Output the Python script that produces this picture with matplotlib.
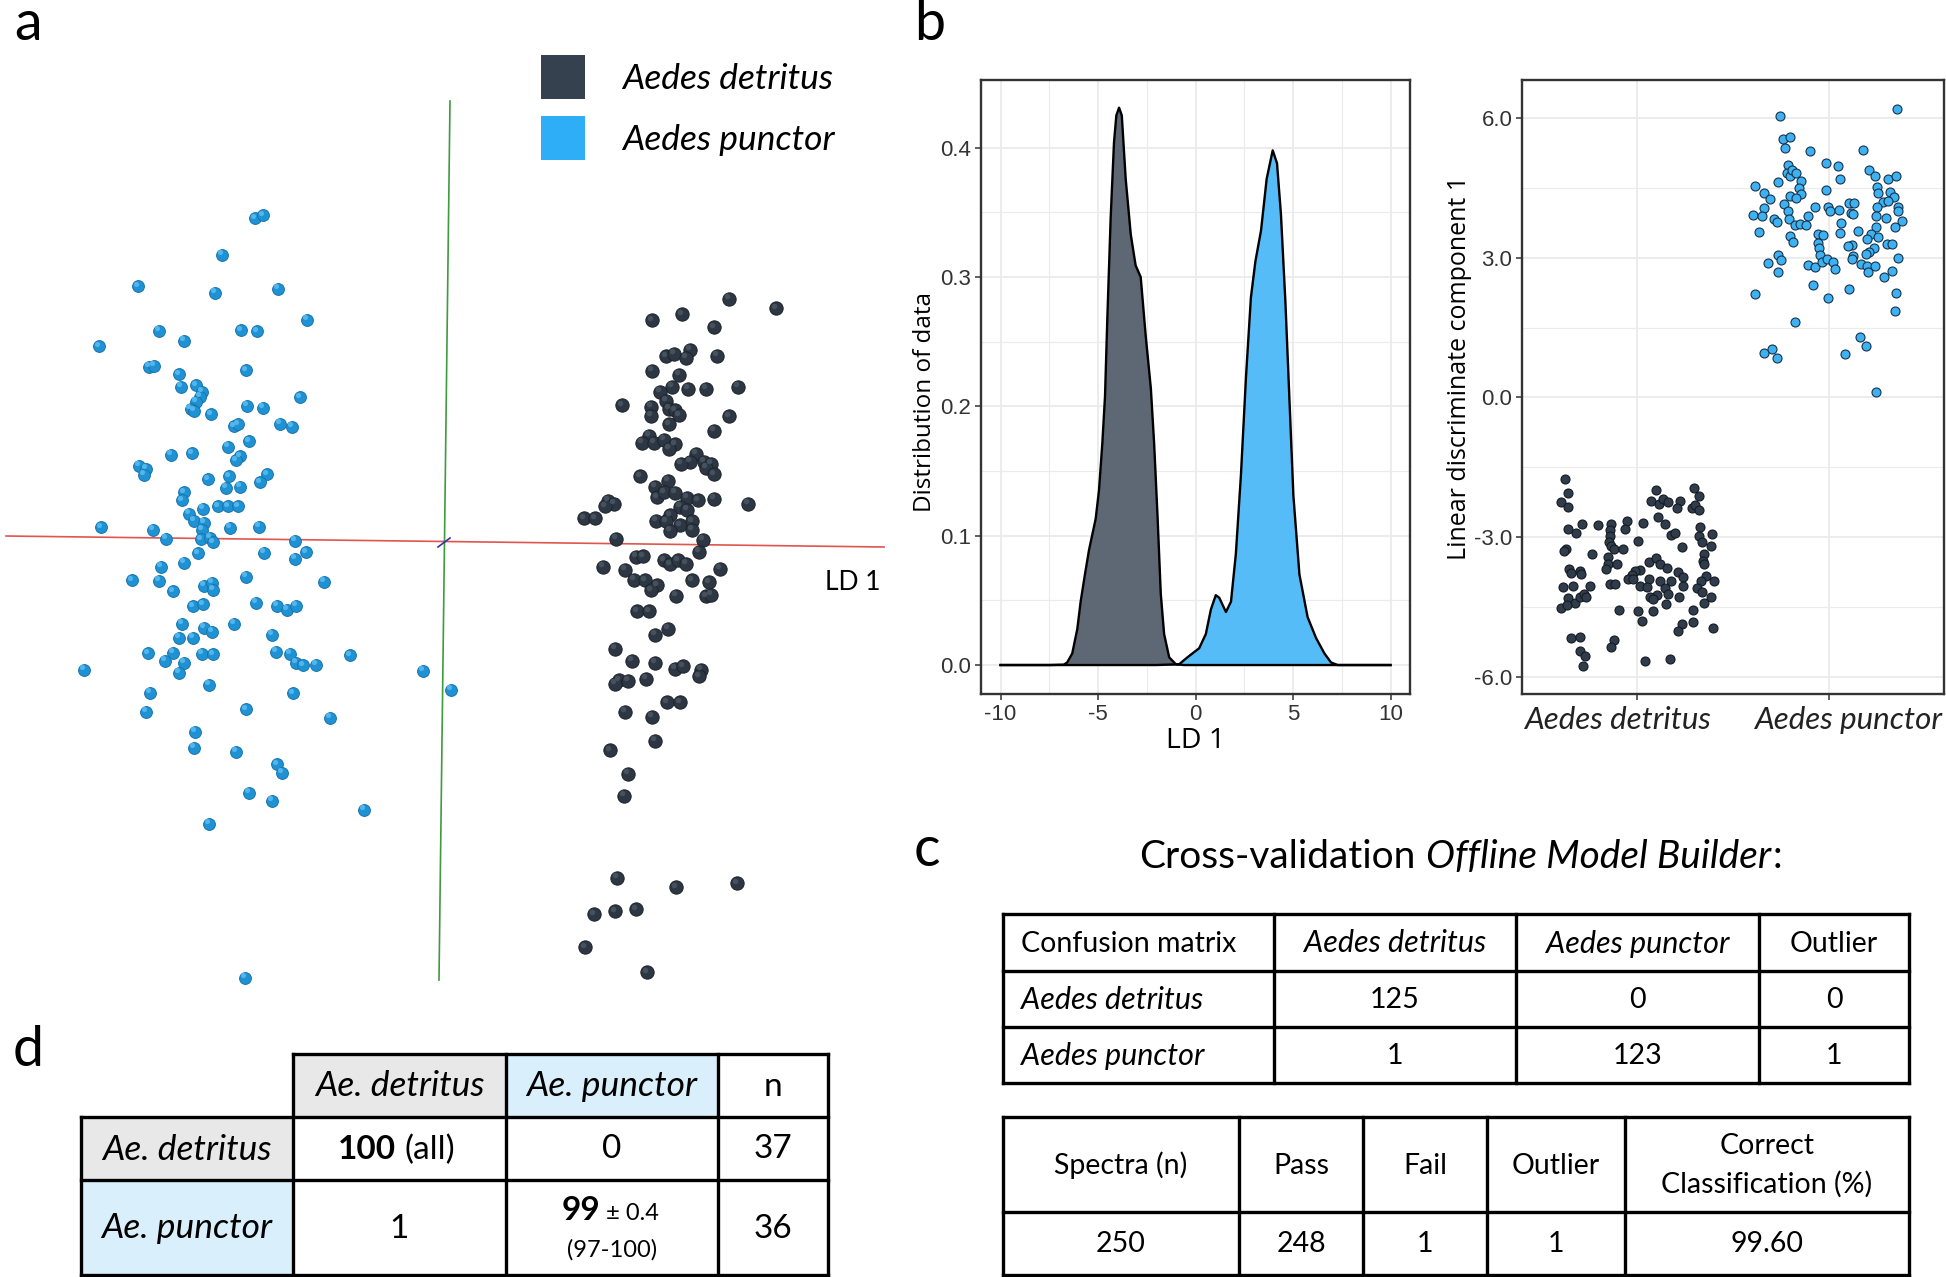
import matplotlib
matplotlib.use("Agg")
import matplotlib.pyplot as plt
from matplotlib.patches import Rectangle
import numpy as np

# ======================= DATA =======================
species = ["Aedes detritus", "Aedes punctor"]

# panel a : 3D LDA view (screen units, origin at axes crossing)
punctor_3d = [(-3.79,6.49),(-3.63,6.56),(-4.45,5.77),(-6.13,5.13),(-4.59,5.01),(-3.32,5.08),(-2.75,4.47),(-5.71,4.25),(-4.06,4.26),(-3.75,4.24),(-5.21,4.05),(-6.91,3.94),(-5.91,3.53),(-5.81,3.55),(-3.97,3.46),(-5.30,3.38),(-5.27,3.13),(-4.96,3.16),(-4.85,3.03),(-4.88,2.93),(-4.97,2.83),(-5.07,2.69),(-5.01,2.65),(-4.65,2.58),(-3.95,2.75),(-3.63,2.71),(-2.88,2.92),(-4.20,2.34),(-4.11,2.38),(-3.29,2.39),(-3.05,2.33),(-3.91,2.04),(-4.33,1.93),(-5.47,1.77),(-5.05,1.80),(-4.09,1.74),(-4.15,1.66),(-6.11,1.55),(-5.97,1.49),(-6.00,1.37),(-4.72,1.28),(-4.31,1.34),(-4.36,1.11),(-4.09,1.13),(-3.55,1.38),(-3.69,1.22),(-5.21,1.02),(-5.25,0.86),(-4.83,0.69),(-4.53,0.74),(-4.33,0.74),(-4.13,0.74),(-5.10,0.59),(-5.00,0.45),(-4.80,0.41),(-6.87,0.32),(-5.83,0.27),(-4.85,0.27),(-4.29,0.31),(-3.71,0.33),(-5.57,0.09),(-4.87,0.08),(-4.68,0.11),(-4.61,0.02),(-2.98,0.05),(-4.93,-0.20),(-3.60,-0.19),(-2.77,-0.18),(-2.99,-0.31),(-5.67,-0.47),(-5.21,-0.39),(-6.25,-0.74),(-5.70,-0.75),(-3.96,-0.67),(-2.41,-0.77),(-5.42,-0.96),(-4.80,-0.85),(-4.64,-0.79),(-4.63,-0.93),(-5.03,-1.26),(-4.83,-1.22),(-3.77,-1.19),(-3.35,-1.25),(-3.15,-1.33),(-2.97,-1.25),(-5.25,-1.61),(-4.80,-1.69),(-4.64,-1.77),(-4.21,-1.61),(-5.31,-1.89),(-5.03,-1.89),(-3.45,-1.83),(-5.93,-2.20),(-5.43,-2.19),(-5.59,-2.35),(-5.21,-2.39),(-5.31,-2.59),(-4.84,-2.21),(-4.63,-2.22),(-3.36,-2.17),(-3.09,-2.21),(-2.96,-2.39),(-2.83,-2.44),(-2.56,-2.43),(-1.89,-2.24),(-7.21,-2.53),(-0.43,-2.55),(0.14,-2.93),(-4.71,-2.83),(-5.88,-2.99),(-3.03,-3.00),(-5.96,-3.37),(-3.97,-3.32),(-2.29,-3.49),(-4.98,-3.77),(-5.01,-4.09),(-4.15,-4.17),(-3.35,-4.42),(-3.24,-4.59),(-3.91,-4.99),(-3.44,-5.15),(-1.61,-5.33),(-4.70,-5.61),(-3.99,-8.69)]
detritus_3d = [(5.69,4.89),(6.64,4.70),(4.16,4.46),(4.76,4.57),(5.39,4.32),(4.43,3.74),(4.59,3.79),(4.91,3.87),(4.83,3.71),(5.45,3.75),(4.15,3.45),(4.69,3.37),(4.56,3.13),(4.32,3.03),(4.88,3.09),(5.23,3.09),(5.87,3.13),(3.55,2.76),(4.14,2.73),(4.14,2.55),(4.43,2.85),(4.49,2.69),(4.62,2.66),(4.69,2.56),(4.49,2.38),(5.70,2.54),(5.39,2.25),(4.10,2.15),(3.95,2.01),(4.19,2.01),(4.40,2.07),(4.61,1.98),(4.49,1.89),(5.03,1.79),(4.92,1.63),(4.73,1.59),(5.20,1.63),(5.34,1.59),(5.24,1.51),(5.39,1.38),(3.92,1.34),(4.47,1.25),(4.22,1.13),(4.25,0.92),(4.40,1.02),(4.61,1.01),(4.86,0.91),(5.08,0.86),(5.39,0.89),(6.07,0.79),(3.27,0.85),(3.40,0.79),(3.21,0.74),(4.71,0.73),(4.86,0.67),(2.79,0.50),(3.01,0.50),(4.23,0.45),(4.52,0.56),(4.44,0.44),(4.71,0.36),(4.95,0.44),(4.95,0.27),(4.52,0.25),(3.44,0.09),(5.17,0.07),(5.09,-0.17),(3.84,-0.27),(3.97,-0.26),(4.39,-0.34),(4.52,-0.42),(4.67,-0.34),(4.84,-0.41),(3.17,-0.47),(3.62,-0.53),(5.52,-0.51),(3.80,-0.73),(4.01,-0.74),(4.25,-0.84),(4.13,-0.94),(4.96,-0.74),(5.30,-0.78),(4.64,-1.05),(5.24,-1.06),(5.34,-1.03),(3.85,-1.36),(4.09,-1.36),(4.47,-1.71),(4.22,-1.83),(3.41,-2.11),(3.76,-2.35),(4.21,-2.39),(4.62,-2.51),(4.77,-2.46),(5.14,-2.53),(5.09,-2.66),(3.49,-2.74),(3.42,-2.81),(3.68,-2.75),(4.03,-2.71),(4.46,-3.18),(4.71,-3.18),(3.62,-3.37),(4.16,-3.47),(4.21,-3.95),(3.31,-4.14),(3.68,-4.61),(3.60,-5.05),(3.46,-6.69),(4.63,-6.88),(5.85,-6.80),(2.99,-7.42),(3.41,-7.36),(3.83,-7.32),(2.81,-8.08),(4.05,-8.58)]

# panel b left : density of LD1
dens_detritus_x = [-10, -7.5, -6.75, -6.58, -6.32, -6.06, -5.89, -5.67, -5.46, -5.12, -4.95, -4.78, -4.64, -4.52, -4.35, -4.18, -4.06, -3.92, -3.78, -3.58, -3.32, -3.07, -2.81, -2.55, -2.29, -2.12, -1.95, -1.78, -1.61, -1.35, -1.01, -0.6, 0, 5, 10]
dens_detritus_y = [0, 0, 0.0003, 0.002, 0.009, 0.028, 0.049, 0.070, 0.089, 0.113, 0.135, 0.171, 0.208, 0.269, 0.346, 0.404, 0.425, 0.431, 0.425, 0.376, 0.333, 0.309, 0.300, 0.254, 0.214, 0.171, 0.116, 0.055, 0.024, 0.006, 0.0006, 0, 0, 0, 0]
dens_punctor_x = [-10, -2, -0.84, -0.41, 0.19, 0.53, 0.79, 1.04, 1.22, 1.56, 1.82, 2.07, 2.33, 2.59, 2.84, 3.07, 3.36, 3.65, 3.96, 4.18, 4.38, 4.61, 4.81, 5.02, 5.33, 5.75, 6.18, 6.61, 6.95, 7.29, 8, 10]
dens_punctor_y = [0, 0, 0.0006, 0.006, 0.013, 0.024, 0.043, 0.054, 0.052, 0.041, 0.049, 0.086, 0.147, 0.223, 0.284, 0.312, 0.336, 0.376, 0.398, 0.388, 0.349, 0.281, 0.208, 0.131, 0.070, 0.037, 0.021, 0.009, 0.002, 0, 0, 0]

# panel b right : jittered strip of LD1 (x = jittered category position)
strip_punctor = [(1.744,6.04),(2.357,6.19),(1.760,5.54),(1.797,5.58),(1.770,5.36),(1.901,5.29),(2.179,5.31),(1.986,5.04),(2.047,4.96),(2.056,4.68),(1.786,4.98),(1.779,4.82),(1.797,4.76),(1.810,4.88),(1.827,4.82),(1.853,4.64),(1.845,4.49),(1.734,4.63),(1.617,4.54),(1.661,4.39),(1.692,4.25),(2.210,4.89),(2.238,4.76),(2.308,4.69),(2.351,4.75),(1.986,4.44),(1.795,4.33),(1.857,4.36),(1.831,4.27),(1.765,4.15),(1.788,4.01),(2.252,4.51),(2.256,4.38),(2.317,4.41),(2.339,4.31),(2.284,4.20),(2.310,4.21),(2.104,4.18),(2.130,4.18),(2.113,3.96),(2.127,3.94),(2.252,4.09),(2.360,4.08),(2.362,4.01),(2.379,3.79),(2.245,3.89),(2.296,3.86),(1.995,4.08),(2.005,4.00),(2.054,4.02),(1.925,4.08),(1.890,3.89),(1.661,4.07),(1.602,3.91),(1.652,3.89),(1.713,3.82),(1.730,3.76),(1.793,3.82),(1.825,3.69),(1.849,3.72),(1.882,3.69),(1.638,3.54),(2.061,3.74),(2.057,3.52),(2.153,3.58),(2.247,3.65),(2.342,3.65),(2.221,3.51),(2.257,3.45),(2.198,3.41),(1.797,3.46),(1.814,3.34),(1.943,3.51),(1.970,3.49),(1.945,3.31),(1.948,3.20),(1.952,3.06),(2.118,3.28),(2.101,3.24),(2.235,3.20),(2.210,3.13),(2.191,3.08),(2.302,3.30),(2.330,3.30),(2.360,3.00),(2.123,3.04),(2.118,2.97),(1.734,3.06),(1.751,2.94),(1.682,2.89),(1.737,2.69),(1.889,2.84),(1.930,2.80),(1.962,2.90),(1.988,2.97),(2.021,2.91),(2.030,2.76),(2.165,2.87),(2.197,2.81),(2.205,2.70),(2.240,2.81),(2.330,2.72),(2.289,2.58),(1.917,2.41),(2.103,2.33),(1.616,2.21),(1.997,2.14),(2.350,2.24),(2.343,1.85),(1.823,1.62),(2.163,1.29),(2.191,1.11),(1.661,0.96),(1.704,1.04),(1.727,0.84),(2.083,0.94),(2.243,0.11)]
strip_detritus = [(0.626,-1.75),(0.640,-2.05),(0.605,-2.25),(0.640,-2.34),(0.638,-2.82),(0.683,-2.90),(0.713,-2.71),(0.797,-2.74),(0.864,-2.71),(0.857,-2.84),(0.857,-2.97),(0.852,-3.11),(0.866,-3.18),(0.948,-2.65),(0.936,-2.83),(0.882,-3.25),(0.929,-3.25),(1.003,-3.08),(1.031,-2.70),(0.631,-3.25),(0.617,-3.30),(0.765,-3.36),(0.847,-3.43),(0.847,-3.57),(0.840,-3.68),(0.896,-3.58),(0.643,-3.68),(0.656,-3.77),(0.701,-3.73),(0.710,-3.79),(0.612,-4.07),(0.664,-4.04),(0.753,-4.04),(0.640,-4.30),(0.675,-4.40),(0.603,-4.52),(0.635,-4.46),(0.704,-4.27),(0.722,-4.21),(0.736,-4.27),(0.861,-4.00),(0.883,-4.00),(0.906,-4.55),(1.007,-4.57),(1.023,-4.79),(1.083,-4.57),(1.153,-4.43),(1.221,-4.27),(0.657,-5.16),(0.704,-5.13),(0.701,-5.43),(0.727,-5.55),(0.717,-5.75),(0.878,-5.21),(0.866,-5.36),(1.040,-5.65),(1.170,-5.61),(1.099,-1.98),(1.070,-2.22),(1.113,-2.28),(1.134,-2.18),(1.162,-2.25),(1.224,-2.21),(1.209,-2.36),(1.296,-1.95),(1.322,-2.11),(1.287,-2.38),(1.304,-2.31),(1.323,-2.41),(1.108,-2.57),(1.148,-2.72),(1.177,-2.96),(1.200,-2.91),(1.235,-3.20),(1.327,-2.77),(1.322,-2.98),(1.391,-2.93),(1.340,-3.11),(1.386,-3.18),(1.350,-3.36),(1.344,-3.50),(1.351,-3.58),(1.064,-3.52),(1.099,-3.45),(1.122,-3.58),(1.157,-3.65),(1.017,-3.70),(0.991,-3.72),(0.974,-3.80),(0.951,-3.90),(0.981,-3.89),(1.214,-3.75),(1.238,-3.85),(1.358,-3.83),(1.332,-3.93),(1.400,-3.93),(1.064,-3.89),(1.122,-3.93),(1.177,-3.93),(1.017,-4.05),(1.052,-4.07),(1.146,-4.08),(1.240,-4.05),(1.313,-4.09),(1.103,-4.23),(1.068,-4.29),(1.083,-4.32),(1.163,-4.22),(1.336,-4.18),(1.384,-4.27),(1.348,-4.40),(1.294,-4.55),(1.290,-4.82),(1.235,-4.86),(1.212,-5.00),(1.395,-4.95)]

# panel c : cross-validation tables
conf_header = ["Confusion matrix", "Aedes detritus", "Aedes punctor", "Outlier"]
conf_header_italic = [False, True, True, False]
conf_rows = ["Aedes detritus", "Aedes punctor"]
conf_values = [[125, 0, 0], [1, 123, 1]]
summary_header = ["Spectra (n)", "Pass", "Fail", "Outlier", "Correct\nClassification (%)"]
summary_values = ["250", "248", "1", "1", "99.60"]

# panel d : identification table
d_header = ["Ae. detritus", "Ae. punctor", "n"]
d_rows = ["Ae. detritus", "Ae. punctor"]
d_correct_pct = [100, 99]
d_punctor_sd = 0.4
d_punctor_range = "97-100"
d_wrong = [0, 1]
d_n = [37, 36]

# ======================= STYLE / LAYOUT =======================
W, H = 1946, 1277
SANS = ["Lato", "DejaVu Sans"]
GG = ["Open Sans", "DejaVu Sans"]
TICKF = ["Liberation Sans", "DejaVu Sans"]
C_DARK = "#36414F"
C_BLUE = "#2DAEF6"
GRID = "#EBEBEB"
FRAME = "#333333"

fig = plt.figure(figsize=(W / 100, H / 100), dpi=100)


def box(x0, y0, x1, y1):
    return [x0 / W, 1 - y1 / H, (x1 - x0) / W, (y1 - y0) / H]


# ---------------- panel a ----------------
axa = fig.add_axes(box(0, 40, 900, 1010))
axa.set_xlim(-8.88, 9.12)
axa.set_ylim(-9.34, 10.06)
axa.axis("off")
axa.plot([-8.76, 8.8], [0.14, -0.08], color="#E0554D", lw=1.2, zorder=1)
axa.plot([0.12, -0.10], [8.84, -8.74], color="#3E9B3E", lw=1.2, zorder=1)
axa.plot([-0.12, 0.12], [-0.08, 0.10], color="#3333AA", lw=1.2, zorder=1)
px, py = zip(*punctor_3d)
dx, dy = zip(*detritus_3d)
axa.scatter(px, py, s=72, c="#1F92D4", edgecolors="#1673AC", linewidths=0.7, zorder=3)
axa.scatter(np.array(px) - 0.04, np.array(py) + 0.05, s=14, c="#52B6EC", linewidths=0, zorder=4)
axa.scatter(dx, dy, s=92, c="#2D3743", edgecolors="#1B222A", linewidths=0.7, zorder=3)
axa.scatter(np.array(dx) - 0.04, np.array(dy) + 0.05, s=16, c="#46515E", linewidths=0, zorder=4)

# ---------------- panel b : density ----------------
axd = fig.add_axes(box(981, 80, 1410, 694))
axd.set_xlim(-11, 11)
axd.set_ylim(-0.0224, 0.4524)
axd.set_xticks([-10, -5, 0, 5, 10])
axd.set_xticklabels(["-10", "-5", "0", "5", "10"])
axd.set_xticks([-7.5, -2.5, 2.5, 7.5], minor=True)
axd.set_yticks([0, 0.1, 0.2, 0.3, 0.4])
axd.set_yticklabels(["0.0", "0.1", "0.2", "0.3", "0.4"])
axd.set_yticks([0.05, 0.15, 0.25, 0.35], minor=True)
axd.grid(which="major", color=GRID, lw=1.3)
axd.grid(which="minor", color=GRID, lw=0.8)
axd.set_axisbelow(True)
axd.fill_between(dens_detritus_x, dens_detritus_y, color="#5E6874", lw=0, zorder=2)
axd.fill_between(dens_punctor_x, dens_punctor_y, color="#56BCF8", lw=0, zorder=2)
axd.plot(dens_detritus_x, dens_detritus_y, color="black", lw=1.7, zorder=3)
axd.plot(dens_punctor_x, dens_punctor_y, color="black", lw=1.7, zorder=3)
axd.set_xlabel("LD 1", fontsize=20.5, family=GG)
axd.xaxis.label.set_va("center")
axd.xaxis.set_label_coords(0.5, -0.076)
axd.set_ylabel("Distribution of data", fontsize=17.5, family=GG)
axd.yaxis.label.set_va("center")
axd.yaxis.set_label_coords(-0.1305, 0.4756)

# ---------------- panel b : strip ----------------
axs = fig.add_axes(box(1522, 80, 1944, 694))
axs.set_xlim(0.4, 2.6)
axs.set_ylim(-6.36, 6.81)
axs.set_xticks([1, 2])
axs.set_xticklabels(["", ""])
axs.set_yticks([-6, -3, 0, 3, 6])
axs.set_yticklabels(["-6.0", "-3.0", "0.0", "3.0", "6.0"])
axs.set_yticks([-4.5, -1.5, 1.5, 4.5], minor=True)
axs.grid(which="major", color=GRID, lw=1.3)
axs.grid(which="minor", axis="y", color=GRID, lw=0.8)
axs.set_axisbelow(True)
sx, sy = zip(*strip_detritus)
axs.scatter(sx, sy, s=42, c="#2F3C4B", edgecolors="#151A20", linewidths=0.8, zorder=3)
sx, sy = zip(*strip_punctor)
axs.scatter(sx, sy, s=42, c="#3DB1F2", edgecolors="#17324A", linewidths=0.8, zorder=3)
axs.set_ylabel("Linear discriminate component 1", fontsize=18, family=GG)
axs.yaxis.label.set_va("center")
axs.yaxis.set_label_coords(-0.147, 0.531)
# category labels (slightly spread apart, as in the original)
for pos, name, off in zip([1, 2], species, [-14, 14]):
    axs.annotate(name, xy=(pos, 0), xycoords=("data", "axes fraction"),
                 xytext=(off, -19), textcoords="offset points",
                 fontsize=22.5, family=SANS, style="italic", color="#222222",
                 ha="center", va="center", annotation_clip=False)

for ax in (axd, axs):
    for sp in ax.spines.values():
        sp.set_color(FRAME)
        sp.set_linewidth(1.7)
    ax.tick_params(which="major", length=4, width=1.1, color=FRAME, pad=3)
    ax.tick_params(which="minor", length=0)
    for lab in ax.get_yticklabels():
        lab.set_fontsize(16)
        lab.set_family(TICKF)
        lab.set_color("#333333")
for lab in axd.get_xticklabels():
    lab.set_fontsize(16)
    lab.set_family(TICKF)
    lab.set_color("#333333")

# ---------------- overlay (legend, tables, letters) ----------------
ov = fig.add_axes([0, 0, 1, 1])
ov.set_xlim(0, W)
ov.set_ylim(H, 0)
ov.axis("off")
ov.patch.set_alpha(0)

for lab, pos in zip(["a", "b", "c", "d"], [(28, 24), (930, 24), (927, 850), (28, 1050)]):
    ov.text(pos[0], pos[1], lab, fontsize=40, family=SANS, ha="center", va="center")

# legend of panel a
for (y0, col, name) in [(55, C_DARK, species[0]), (116, C_BLUE, species[1])]:
    ov.add_patch(Rectangle((541, y0), 44, 44, color=col, lw=0))
    ov.text(622, y0 + 24, name, fontsize=25.5, family=SANS, style="italic", ha="left", va="center")
ov.text(853, 582, "LD 1", fontsize=19, family=SANS, ha="center", va="center")

LW = 2.4


def grid_lines(xs, ys):
    for y in ys:
        ov.plot([xs[0], xs[-1]], [y, y], color="black", lw=LW, solid_capstyle="projecting")
    for x in xs:
        ov.plot([x, x], [ys[0], ys[-1]], color="black", lw=LW, solid_capstyle="projecting")


# panel c title (mixed styles)
r = fig.canvas.get_renderer()
inv = ov.transData.inverted()
x = 1139
parts = [("Cross-validation", "normal", 11), ("Offline Model Builder", "italic", 1), (":", "normal", 0)]
for txt, st, gap in parts:
    t = ov.text(x, 857, txt, fontsize=28, family=SANS, style=st, ha="left", va="center")
    bb = t.get_window_extent(r)
    x = inv.transform((bb.x1, bb.y0))[0] + gap

# confusion matrix table
xs1 = [1003, 1274, 1516, 1759, 1909]
ys1 = [914, 971, 1027, 1083]
grid_lines(xs1, ys1)
FS = 20.5
FSI = 22
yc = (ys1[0] + ys1[1]) / 2 + 1
ov.text(1021, yc, conf_header[0], fontsize=FS, family=SANS, ha="left", va="center")
for j in range(1, 4):
    it = conf_header_italic[j]
    ov.text((xs1[j] + xs1[j + 1]) / 2, yc, conf_header[j], fontsize=FSI if it else FS, family=SANS,
            style="italic" if it else "normal", ha="center", va="center")
for i, row in enumerate(conf_rows):
    yc = (ys1[i + 1] + ys1[i + 2]) / 2 + 1
    ov.text(1021, yc, row, fontsize=FSI, family=SANS, style="italic", ha="left", va="center")
    for j, v in enumerate(conf_values[i]):
        ov.text((xs1[j + 1] + xs1[j + 2]) / 2, yc, str(v), fontsize=FS, family=SANS, ha="center", va="center")

# summary table
xs2 = [1003, 1239, 1363, 1487, 1625, 1909]
ys2 = [1117, 1212, 1275]
grid_lines(xs2, ys2)
for j in range(5):
    xc = (xs2[j] + xs2[j + 1]) / 2
    ov.text(xc, (ys2[0] + ys2[1]) / 2 + 1, summary_header[j], fontsize=FS, family=SANS,
            ha="center", va="center", linespacing=1.55)
    ov.text(xc, (ys2[1] + ys2[2]) / 2 + 1, summary_values[j], fontsize=FS, family=SANS, ha="center", va="center")

# panel d table
xsd = [81, 293, 506, 718, 828]
ysd = [1054, 1117, 1180, 1275]
ov.add_patch(Rectangle((xsd[1], ysd[0]), xsd[2] - xsd[1], ysd[1] - ysd[0], color="#E8E8E8", lw=0))
ov.add_patch(Rectangle((xsd[2], ysd[0]), xsd[3] - xsd[2], ysd[1] - ysd[0], color="#D9F0FC", lw=0))
ov.add_patch(Rectangle((xsd[0], ysd[1]), xsd[1] - xsd[0], ysd[2] - ysd[1], color="#E8E8E8", lw=0))
ov.add_patch(Rectangle((xsd[0], ysd[2]), xsd[1] - xsd[0], ysd[3] - ysd[2], color="#D9F0FC", lw=0))
for y in ysd:
    ov.plot([xsd[1] if y == ysd[0] else xsd[0], xsd[-1]], [y, y], color="black", lw=LW, solid_capstyle="projecting")
for x in xsd:
    ov.plot([x, x], [ysd[0] if x != xsd[0] else ysd[1], ysd[-1]], color="black", lw=LW, solid_capstyle="projecting")
FD = 24
FDI = 25.5
yh = (ysd[0] + ysd[1]) / 2 + 1
for j, hname in enumerate(d_header):
    ov.text((xsd[j + 1] + xsd[j + 2]) / 2, yh, hname, fontsize=FDI if j < 2 else FD, family=SANS,
            style="italic" if j < 2 else "normal", ha="center", va="center")
for i, row in enumerate(d_rows):
    ov.text((xsd[0] + xsd[1]) / 2, (ysd[i + 1] + ysd[i + 2]) / 2 + 1, row, fontsize=FDI, family=SANS,
            style="italic", ha="center", va="center")
# row 1
y1 = (ysd[1] + ysd[2]) / 2 + 1
ov.text(396, y1, str(d_correct_pct[0]), fontsize=FD, family=SANS, weight="bold", ha="right", va="center")
ov.text(404, y1, "(all)", fontsize=FD, family=SANS, ha="left", va="center")
ov.text((xsd[2] + xsd[3]) / 2, y1, str(d_wrong[0]), fontsize=FD, family=SANS, ha="center", va="center")
ov.text((xsd[3] + xsd[4]) / 2, y1, str(d_n[0]), fontsize=FD, family=SANS, ha="center", va="center")
# row 2
y2 = (ysd[2] + ysd[3]) / 2 + 1
ov.text((xsd[1] + xsd[2]) / 2, y2, str(d_wrong[1]), fontsize=FD, family=SANS, ha="center", va="center")
ov.text(600, 1211, str(d_correct_pct[1]), fontsize=FD, family=SANS, weight="bold", ha="right", va="center")
ov.text(606, 1214, "\u00b1 " + str(d_punctor_sd), fontsize=17, family=SANS, ha="left", va="center")
ov.text(612, 1250, "(" + d_punctor_range + ")", fontsize=17, family=SANS, ha="center", va="center")
ov.text((xsd[3] + xsd[4]) / 2, y2, str(d_n[1]), fontsize=FD, family=SANS, ha="center", va="center")

fig.savefig("out.png", dpi=100)
